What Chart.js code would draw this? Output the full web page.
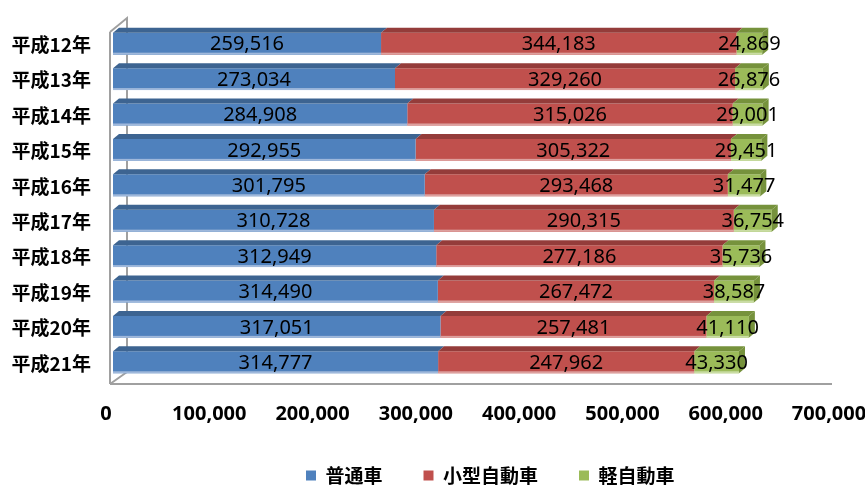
<!DOCTYPE html>
<html>
<head>
<meta charset="utf-8">
<script src="https://cdn.jsdelivr.net/npm/chart.js@4/dist/chart.umd.min.js"></script>
<style>
  html, body { margin: 0; padding: 0; background: #ffffff; }
  #wrap { width: 865px; height: 485px; }
</style>
</head>
<body>
<div id="wrap"><canvas id="c" width="865" height="485"></canvas></div>
<script>
// 車種別保有台数（平成12年〜平成21年）
const years = ['平成12年', '平成13年', '平成14年', '平成15年', '平成16年',
               '平成17年', '平成18年', '平成19年', '平成20年', '平成21年'];
const futsusha = [259516, 273034, 284908, 292955, 301795, 310728, 312949, 314490, 317051, 314777];
const kogata   = [344183, 329260, 315026, 305322, 293468, 290315, 277186, 267472, 257481, 247962];
const kei      = [24869, 26876, 29001, 29451, 31477, 36754, 35736, 38587, 41110, 43330];
const seriesNames = ['普通車', '小型自動車', '軽自動車'];
const axisMax = 700000;
const axisStep = 100000;

// front / top / lower-edge shades for each series
const shades = [
  { front: '#4F81BD', top: '#3D6491', edge: '#9FB8DB' },
  { front: '#C0504D', top: '#943C3A', edge: '#DDA09E' },
  { front: '#9BBB59', top: '#76923C', edge: '#C9DCA3' }
];
const depth = { dx: 6, dy: 5 };
const fmt = v => Number(v).toLocaleString('en-US');

// gray 3D frame: front edge, back wall edge and floor
const framePlugin = {
  id: 'frame3d',
  beforeDatasetsDraw(chart) {
    const { ctx, chartArea: a } = chart;
    const fx = a.left - 3, fTop = a.top + 6, fBot = a.bottom + 4;
    const bx = a.left + 14, bTop = a.top - 8, bBot = a.bottom - 8;
    ctx.save();
    ctx.strokeStyle = '#A0A0A0';
    ctx.lineWidth = 2;
    ctx.beginPath();
    ctx.moveTo(fx, fTop); ctx.lineTo(fx, fBot);
    ctx.moveTo(fx, fTop); ctx.lineTo(bx, bTop);
    ctx.lineTo(bx, bBot);
    ctx.moveTo(fx, fBot); ctx.lineTo(bx, bBot);
    ctx.moveTo(fx, fBot); ctx.lineTo(a.right - 4, fBot);
    ctx.stroke();
    ctx.restore();
  }
};

// top faces, end caps and value labels of the stacked bars
const barFacesPlugin = {
  id: 'barFaces',
  afterDatasetsDraw(chart) {
    const { ctx } = chart;
    const n = chart.data.datasets.length;
    const metas = [];
    for (let d = 0; d < n; d++) metas.push(chart.getDatasetMeta(d));
    ctx.save();
    metas.forEach((meta, d) => {
      meta.data.forEach((el) => {
        const x0 = Math.min(el.base, el.x), x1 = Math.max(el.base, el.x);
        const yT = el.y - el.height / 2, yB = el.y + el.height / 2;
        ctx.fillStyle = shades[d].edge;
        ctx.fillRect(x0, yB - 2, x1 - x0, 2);
        ctx.fillStyle = shades[d].top;
        ctx.beginPath();
        ctx.moveTo(x0, yT); ctx.lineTo(x1, yT);
        ctx.lineTo(x1 + depth.dx, yT - depth.dy);
        ctx.lineTo(x0 + depth.dx, yT - depth.dy);
        ctx.closePath(); ctx.fill();
        if (d === n - 1) {
          ctx.beginPath();
          ctx.moveTo(x1, yT); ctx.lineTo(x1 + depth.dx, yT - depth.dy);
          ctx.lineTo(x1 + depth.dx, yB - depth.dy); ctx.lineTo(x1, yB);
          ctx.closePath(); ctx.fill();
        }
      });
    });
    ctx.fillStyle = '#000000';
    ctx.font = '20px "Noto Sans", sans-serif';
    ctx.textAlign = 'center';
    ctx.textBaseline = 'middle';
    metas.forEach((meta, d) => {
      const values = chart.data.datasets[d].data;
      meta.data.forEach((el, i) => {
        ctx.fillText(fmt(values[i]), (el.base + el.x) / 2, el.y + 1);
      });
    });
    ctx.restore();
  }
};

// place the legend row under the value axis
const legendPlacePlugin = {
  id: 'legendPlace',
  afterLayout(chart) {
    const lg = chart.legend;
    if (!lg) return;
    lg.left = 265; lg.right = 865;
    lg.top = 425; lg.bottom = 485;
  }
};

new Chart(document.getElementById('c'), {
  type: 'bar',
  data: {
    labels: years,
    datasets: [futsusha, kogata, kei].map((vals, d) => ({
      label: seriesNames[d],
      data: vals,
      backgroundColor: shades[d].front,
      borderWidth: 0,
      barPercentage: 0.62,
      categoryPercentage: 1.0
    }))
  },
  options: {
    indexAxis: 'y',
    responsive: false,
    animation: false,
    devicePixelRatio: 1,
    layout: { padding: { top: 26, right: 29, left: 0, bottom: 0 } },
    scales: {
      x: {
        stacked: true,
        min: 0, max: axisMax,
        grid: { display: false },
        border: { display: false },
        ticks: {
          stepSize: axisStep,
          padding: 14,
          labelOffset: -7,
          color: '#000000',
          maxRotation: 0,
          font: { family: '"Noto Sans", sans-serif', size: 20, weight: 'bold' },
          callback: v => fmt(v)
        },
        afterFit(scale) {
          scale.height = 83;
          scale.paddingLeft = 0;
          scale.paddingRight = 0;
        }
      },
      y: {
        stacked: true,
        grid: { display: false },
        border: { display: false },
        ticks: {
          padding: 14,
          labelOffset: 1,
          color: '#000000',
          font: { family: '"Noto Sans CJK JP", sans-serif', size: 19, weight: 'bold' }
        },
        afterFit(scale) { scale.width = 113; }
      }
    },
    plugins: {
      legend: {
        position: 'bottom',
        align: 'start',
        maxHeight: 22,
        labels: {
          boxWidth: 10,
          boxHeight: 10,
          padding: 41,
          color: '#000000',
          font: { family: '"Noto Sans CJK JP", sans-serif', size: 19, weight: 'bold' }
        }
      },
      tooltip: { enabled: false }
    }
  },
  plugins: [framePlugin, barFacesPlugin, legendPlacePlugin]
});
</script>
</body>
</html>
